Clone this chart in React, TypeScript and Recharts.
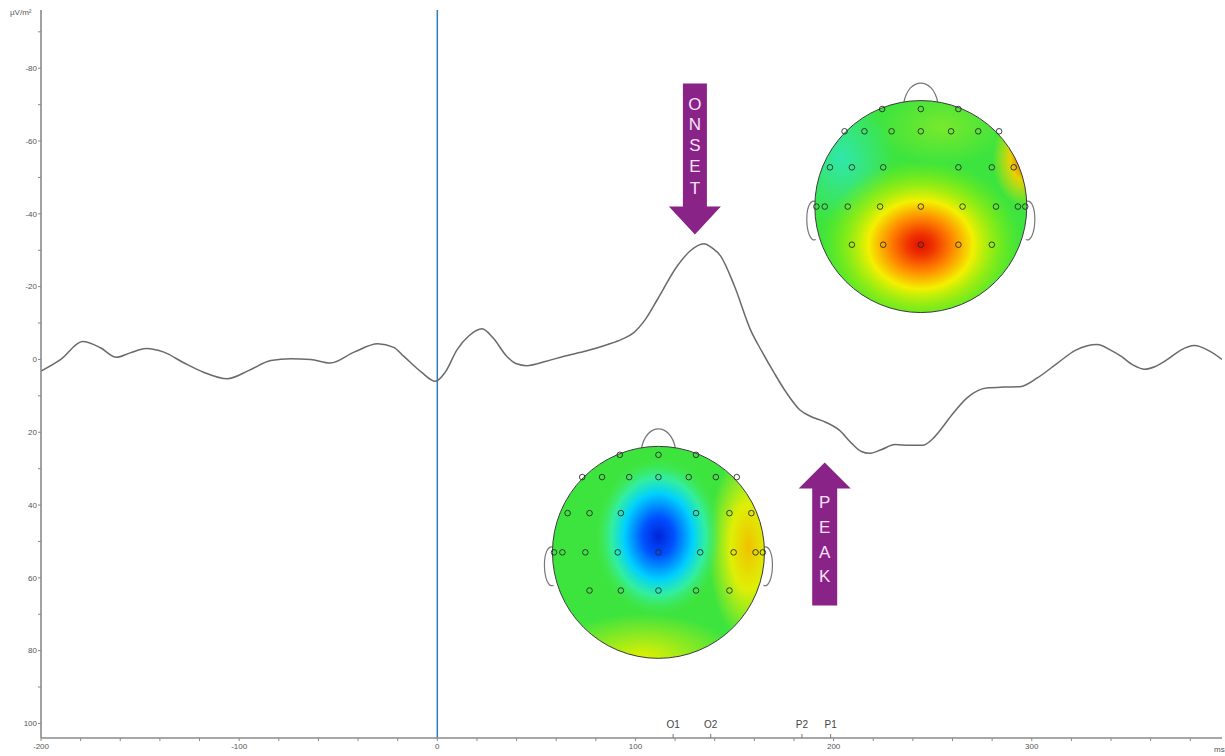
import React from 'react';
import { LineChart, Line, XAxis, YAxis, ReferenceLine, ReferenceDot } from 'recharts';

// ---- data ----
const timeMs = [
  -200, -190, -179, -170, -162, -155, -147, -138, -128, -118, -106, -95, -84, -74, -64, -54, -42, -30, -22, -17,
  -8, -1, 4, 10, 16, 22.6, 28, 35, 40, 45, 55, 64, 75, 86, 93, 99, 105, 111, 121, 128, 134.5, 139, 143, 150,
  158, 164, 170, 176, 183, 189, 195, 203, 209, 214, 218, 224, 231, 238, 245, 250, 254, 260, 267.5, 273, 278,
  286, 294, 303, 313, 322, 333, 340, 345, 351, 357, 362, 368.5, 375, 382, 390, 396,
];
const csdValues = [
  3.2, 0, -4.9, -3.2, -0.6, -1.8, -3, -2, 0.9, 3.5, 5.3, 3, 0.3, -0.2, 0, 1, -2, -4.3, -3.3, -0.9,
  3.5, 6, 3.5, -2.7, -6.5, -8.4, -6, -0.9, 1.2, 1.7, 0.5, -0.9, -2.3, -4.1, -5.5, -7.3, -11, -16.4, -25.6, -30, -31.8, -30.5, -28.4, -20.1,
  -8.2, -2, 3.7, 9, 13.9, 15.8, 17, 19.5, 23, 25.3, 25.8, 24.8, 23.4, 23.6, 23.6, 21.8, 19.3, 15, 10.5, 8.5, 7.8,
  7.6, 7.5, 5, 1, -2.5, -4.1, -2.5, -0.9, 1.5, 2.7, 2, 0, -2.5, -3.8, -2.2, 0,
];
const xTicks = [-200, -180, -160, -140, -120, -100, -80, -60, -40, -20, 0, 20, 40, 60, 80, 100, 120, 140, 160, 180, 200, 220, 240, 260, 280, 300, 320, 340, 360, 380];
const yTicks = [-90, -80, -70, -60, -50, -40, -30, -20, -10, 0, 10, 20, 30, 40, 50, 60, 70, 80, 90, 100];
const electrodeLabels = ['O1', 'O2', 'P2', 'P1'];
const electrodeTimes = [119, 138, 184, 198.5];
const onsetArrowAt = { t: 130, v: -34.3 };
const peakArrowAt = { t: 195.5, v: 28.3 };
const onsetMapAt = { t: 244, v: -42 };
const peakMapAt = { t: 111.6, v: 53 };

const data = timeMs.map((t, i) => ({ t, v: csdValues[i] }));

// electrode montage in normalised head units
const montageRows: [number, number[]][] = [
  [-0.92, [-0.37, 0, 0.36]],
  [-0.71, [-0.73, -0.54, -0.28, 0, 0.29, 0.55, 0.75]],
  [-0.37, [-0.87, -0.66, -0.36, 0.36, 0.68, 0.89]],
  [0, [-1.0, -0.92, -0.7, -0.39, 0, 0.4, 0.72, 0.93, 1.0]],
  [0.36, [-0.66, -0.36, 0, 0.36, 0.68]],
];

const FONT = '"Liberation Sans", Arial, sans-serif';
const PURPLE = '#8a2388';

type Spot = { dx: number; dy: number; rx: number; ry: number; stops: [number, string, number][] };

const onsetSpots: Spot[] = [
  { dx: -0.75, dy: -0.45, rx: 0.5, ry: 0.6, stops: [[0, '#2ce8c8', 0.8], [1, '#2ce8c8', 0]] },
  { dx: 0.2, dy: -0.75, rx: 0.6, ry: 0.35, stops: [[0, '#a0ec20', 0.6], [1, '#a0ec20', 0]] },
  { dx: 0.98, dy: -0.45, rx: 0.3, ry: 0.45, stops: [[0, '#f05000', 1], [0.45, '#f0d000', 0.95], [1, '#f0e000', 0]] },
  { dx: 0.88, dy: 0.88, rx: 0.3, ry: 0.28, stops: [[0, '#1030ff', 1], [0.45, '#30c8f0', 0.85], [1, '#30d0f0', 0]] },
  { dx: 0, dy: 0.36, rx: 0.95, ry: 0.8, stops: [[0, '#e01000', 1], [0.13, '#f03400', 1], [0.32, '#ff8a00', 1], [0.52, '#f4f000', 1], [0.75, '#b0f000', 0.6], [1, '#80f000', 0]] },
];
const peakSpots: Spot[] = [
  { dx: 0.85, dy: -0.05, rx: 0.38, ry: 0.9, stops: [[0, '#f0c000', 1], [0.45, '#f0f000', 0.9], [1, '#f0f000', 0]] },
  { dx: -0.15, dy: 1.0, rx: 0.9, ry: 0.42, stops: [[0, '#e4f000', 1], [1, '#e4f000', 0]] },
  { dx: 0, dy: -0.15, rx: 0.72, ry: 0.9, stops: [[0, '#0024d8', 1], [0.2, '#0050ff', 1], [0.45, '#00d0ff', 1], [0.62, '#30f0b0', 0.85], [0.82, '#40ec60', 0]] },
];

function Topomap(props: any) {
  const { cx, cy, id, spots } = props;
  if (cx == null || cy == null) return null;
  const r = 106;
  return (
    <g>
      <defs>
        <clipPath id={`clip-${id}`}>
          <circle cx={cx} cy={cy} r={r} />
        </clipPath>
        {spots.map((s: Spot, i: number) => (
          <radialGradient id={`g-${id}-${i}`} key={i} cx="50%" cy="50%" r="50%">
            {s.stops.map((st, j) => (
              <stop key={j} offset={st[0]} stopColor={st[1]} stopOpacity={st[2]} />
            ))}
          </radialGradient>
        ))}
      </defs>
      <path
        d={`M ${cx - 17} ${cy - r + 2} C ${cx - 12} ${cy - r - 24} ${cx + 12} ${cy - r - 24} ${cx + 17} ${cy - r + 2}`}
        fill="none" stroke="#777" strokeWidth={1.2}
      />
      <path
        d={`M ${cx - r + 1} ${cy - 5} C ${cx - r - 12} ${cy - 10} ${cx - r - 10} ${cy + 38} ${cx - r + 1} ${cy + 33}`}
        fill="#fff" stroke="#777" strokeWidth={1.2}
      />
      <path
        d={`M ${cx + r - 1} ${cy - 5} C ${cx + r + 12} ${cy - 10} ${cx + r + 10} ${cy + 38} ${cx + r - 1} ${cy + 33}`}
        fill="#fff" stroke="#777" strokeWidth={1.2}
      />
      <g clipPath={`url(#clip-${id})`}>
        <circle cx={cx} cy={cy} r={r} fill="#3ee43e" />
        {spots.map((s: Spot, i: number) => (
          <ellipse key={i} cx={cx + s.dx * r} cy={cy + s.dy * r} rx={s.rx * r} ry={s.ry * r} fill={`url(#g-${id}-${i})`} />
        ))}
      </g>
      <circle cx={cx} cy={cy} r={r} fill="none" stroke="#3a3a3a" strokeWidth={1} />
      {montageRows.map(([ny, xs], i) =>
        xs.map((nx, j) => (
          <circle key={`${i}-${j}`} cx={cx + nx * r * 0.985} cy={cy + ny * r} r={2.8} fill="none" stroke="#2a2a2a" strokeWidth={0.9} />
        ))
      )}
    </g>
  );
}

function OnsetArrow(props: any) {
  const { cx, cy } = props;
  if (cx == null || cy == null) return null;
  const letters = ['O', 'N', 'S', 'E', 'T'];
  const offs = [-130, -110, -89, -68, -46];
  return (
    <g>
      <path
        d={`M ${cx - 12} ${cy - 151} L ${cx + 12} ${cy - 151} L ${cx + 12} ${cy - 28} L ${cx + 26} ${cy - 28} L ${cx} ${cy} L ${cx - 26} ${cy - 28} L ${cx - 12} ${cy - 28} Z`}
        fill={PURPLE}
      />
      {letters.map((l, i) => (
        <text key={l + i} x={cx} y={cy + offs[i]} textAnchor="middle" dominantBaseline="central" fontFamily={FONT} fontSize={17} fill="#f6e2f6">{l}</text>
      ))}
    </g>
  );
}

function PeakArrow(props: any) {
  const { cx, cy } = props;
  if (cx == null || cy == null) return null;
  const letters = ['P', 'E', 'A', 'K'];
  const offs = [40, 65, 90, 114];
  return (
    <g>
      <path
        d={`M ${cx} ${cy} L ${cx + 26} ${cy + 26} L ${cx + 12.5} ${cy + 26} L ${cx + 12.5} ${cy + 143} L ${cx - 12.5} ${cy + 143} L ${cx - 12.5} ${cy + 26} L ${cx - 26} ${cy + 26} Z`}
        fill={PURPLE}
      />
      {letters.map((l, i) => (
        <text key={l + i} x={cx} y={cy + offs[i]} textAnchor="middle" dominantBaseline="central" fontFamily={FONT} fontSize={17} fill="#f6e2f6">{l}</text>
      ))}
    </g>
  );
}

function ElectrodeMark(props: any) {
  const { cx, cy, label } = props;
  if (cx == null || cy == null) return null;
  return (
    <g>
      <line x1={cx} y1={cy} x2={cx} y2={cy - 4} stroke="#777" strokeWidth={1} />
      <text x={cx} y={cy - 14} textAnchor="middle" dominantBaseline="central" fontFamily={FONT} fontSize={10} fill="#444">{label}</text>
    </g>
  );
}

export default function App() {
  const tickStyle = { fontSize: 8, fill: '#555', fontFamily: FONT };
  return (
    <div style={{ position: 'absolute', left: 0, top: 0, width: 1225, height: 756, background: '#fff' }}>
      <LineChart width={1225} height={756} data={data} margin={{ top: 10, right: 3, left: 0, bottom: 0 }}>
        <XAxis
          dataKey="t" type="number" domain={[-200, 396]} allowDataOverflow ticks={xTicks}
          tickFormatter={(v: number) => (v % 100 === 0 ? String(v) : '')}
          height={18} tickSize={3} tickMargin={2} tick={tickStyle}
          axisLine={{ stroke: '#8a8a8a', strokeWidth: 1.6 }} tickLine={{ stroke: '#8a8a8a' }}
        />
        <YAxis
          type="number" domain={[-96, 104]} reversed allowDataOverflow ticks={yTicks}
          tickFormatter={(v: number) => (v % 20 === 0 ? String(v) : '')}
          width={41} tickSize={3} tickMargin={1} tick={tickStyle}
          axisLine={{ stroke: '#8a8a8a', strokeWidth: 1.6 }} tickLine={{ stroke: '#8a8a8a' }}
        />
        <ReferenceLine x={0} stroke="#2f7cbc" strokeWidth={1.5} />
        <Line type="monotone" dataKey="v" stroke="#6a6a6a" strokeWidth={1.5} dot={false} isAnimationActive={false} />
        {electrodeLabels.map((l, i) => (
          <ReferenceDot key={l} x={electrodeTimes[i]} y={104} ifOverflow="visible" shape={(p: any) => <ElectrodeMark {...p} label={l} />} />
        ))}
        <ReferenceDot x={onsetMapAt.t} y={onsetMapAt.v} ifOverflow="visible" shape={(p: any) => <Topomap {...p} id="onset" spots={onsetSpots} />} />
        <ReferenceDot x={peakMapAt.t} y={peakMapAt.v} ifOverflow="visible" shape={(p: any) => <Topomap {...p} id="peak" spots={peakSpots} />} />
        <ReferenceDot x={onsetArrowAt.t} y={onsetArrowAt.v} ifOverflow="visible" shape={(p: any) => <OnsetArrow {...p} />} />
        <ReferenceDot x={peakArrowAt.t} y={peakArrowAt.v} ifOverflow="visible" shape={(p: any) => <PeakArrow {...p} />} />
      </LineChart>
      <span style={{ position: 'absolute', left: 10, top: 8, fontSize: 8, fontFamily: FONT, color: '#555' }}>µV/m²</span>
      <span style={{ position: 'absolute', left: 1214, top: 745, fontSize: 8, fontFamily: FONT, color: '#555' }}>ms</span>
    </div>
  );
}
